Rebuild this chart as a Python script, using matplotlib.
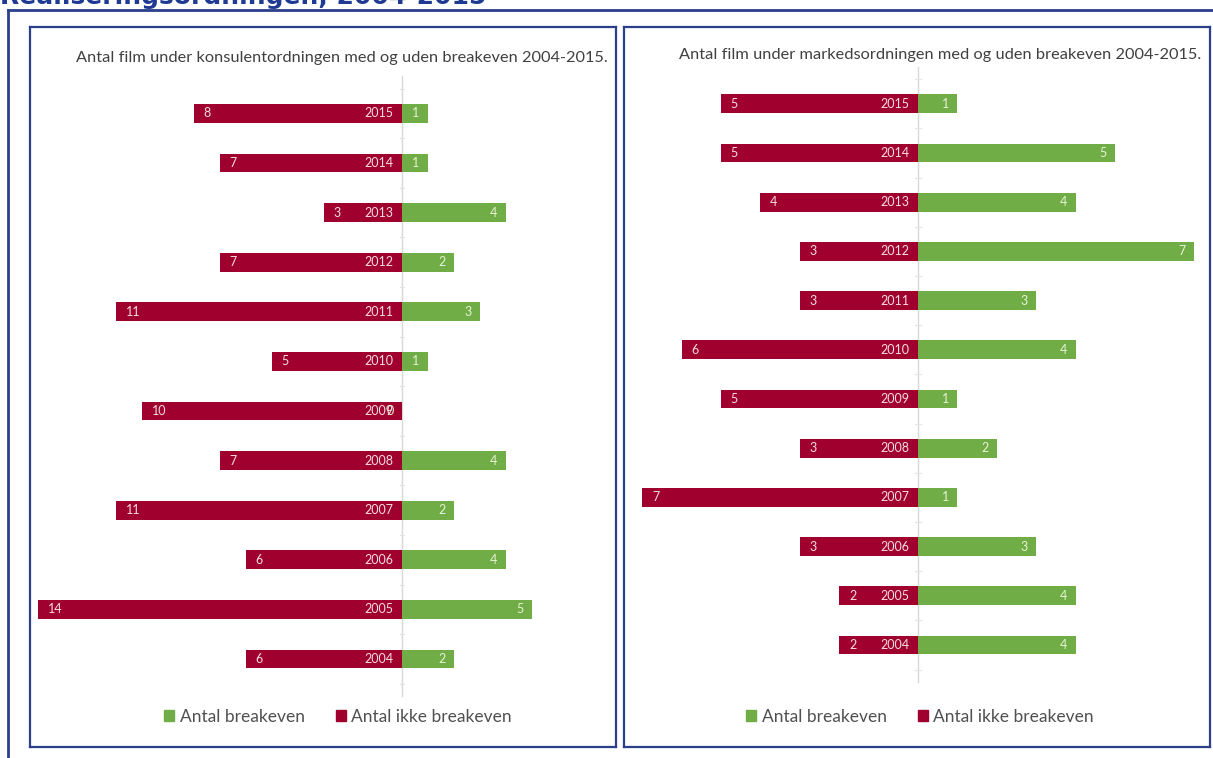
import numpy as np
import matplotlib.pyplot as plt
from matplotlib.lines import Line2D
from matplotlib.patches import Rectangle

years = np.arange(2004, 2016)

# konsulentordningen
kons_ikke = [6, 14, 6, 11, 7, 10, 5, 11, 7, 3, 7, 8]
kons_break = [2, 5, 4, 2, 4, 0, 1, 3, 2, 4, 1, 1]

# markedsordningen
mark_ikke = [2, 2, 3, 7, 3, 5, 6, 3, 3, 4, 5, 5]
mark_break = [4, 4, 3, 1, 2, 1, 4, 3, 7, 4, 5, 1]

titles = ['Antal film under konsulentordningen med og uden breakeven 2004-2015.',
          'Antal film under markedsordningen med og uden breakeven 2004-2015.']
legend_labels = ['Antal breakeven', 'Antal ikke breakeven']

RED = '#A0002E'
GREEN = '#70AD47'
FRAME = '#2B3F8C'
FONT = ['Lato', 'DejaVu Sans']

W, H = 1213, 758
fig = plt.figure(figsize=(W / 100, H / 100), dpi=100)


def px_axes(x0, y0, x1, y1):
    # pixel box (top-left origin) -> figure axes
    return fig.add_axes([x0 / W, 1 - y1 / H, (x1 - x0) / W, (y1 - y0) / H])


def panel(box, xlim, ylim, ikke, brk, title, title_x, title_y, leg_x):
    ax = px_axes(*box)
    ax.set_xlim(*xlim)
    ax.set_ylim(*ylim)
    ax.set_xticks([])
    ax.set_yticks([])
    for s in ax.spines.values():
        s.set_color(FRAME)
        s.set_linewidth(1.6)

    y = np.arange(len(years))
    ikke = np.array(ikke)
    brk = np.array(brk)
    ax.barh(y, -ikke, height=0.38, color=RED, zorder=2)
    ax.barh(y, brk, height=0.38, color=GREEN, zorder=2)

    # centre axis with small category ticks
    ax.plot([0, 0], [-0.75, 11.75], color='#D8D8D8', lw=1.0, zorder=1)
    for b in np.arange(-0.5, 12.0, 1.0):
        ax.plot([-0.08, 0.08], [b, b], color='#E4E4E4', lw=0.8, zorder=1)

    for i in range(len(years)):
        ax.annotate(str(ikke[i]), (-ikke[i], y[i]), xytext=(7, 0),
                    textcoords='offset points', ha='left', va='center',
                    color='#F5DCE2', fontsize=9, family=FONT, zorder=3)
        ax.annotate(str(years[i]), (0, y[i]), xytext=(-6, 0),
                    textcoords='offset points', ha='right', va='center',
                    color='#F5DCE2', fontsize=9, family=FONT, zorder=3)
        ax.annotate(str(brk[i]), (brk[i], y[i]), xytext=(-6, 0),
                    textcoords='offset points', ha='right', va='center',
                    color='#E6F2D4', fontsize=9, family=FONT, zorder=3)

    fig.text(title_x / W, 1 - title_y / H, title, ha='right', va='center',
             color='#404040', fontsize=11.8, family=FONT)

    # legend
    handles = [Rectangle((0, 0), 1, 1, color=GREEN), Rectangle((0, 0), 1, 1, color=RED)]
    fig.legend(handles, legend_labels, loc='center', bbox_to_anchor=(leg_x / W, 1 - 717 / H),
               ncol=2, frameon=False, handlelength=0.6, handleheight=0.6,
               handletextpad=0.3, columnspacing=1.8,
               prop={'family': FONT, 'size': 12.5}, labelcolor='#505050')
    return ax


# left: axis at x=402, 26 px per film; 2004 at y=659, 49.6 px per year
panel((30, 27, 616, 747),
      ((30 - 402) / 26, (616 - 402) / 26),
      ((659 - 747) / 49.6, (659 - 27) / 49.6),
      kons_ikke, kons_break, titles[0], 608, 58, 338)

# right: axis at x=918, 39.4 px per film; 2004 at y=645, 49.2 px per year
panel((624, 27, 1210, 747),
      ((624 - 918) / 39.4, (1210 - 918) / 39.4),
      ((645 - 747) / 49.2, (645 - 27) / 49.2),
      mark_ikke, mark_break, titles[1], 1201, 55, 920)

# outer frame and the heading above it
fig.add_artist(Line2D([8 / W, 8 / W], [0, 1 - 10 / H], color=FRAME, lw=2))
fig.add_artist(Line2D([8 / W, 1], [1 - 10 / H, 1 - 10 / H], color=FRAME, lw=2))
fig.text(0.0, 1 - 4 / H, 'Realiseringsordningen, 2004-2015', ha='left', va='baseline',
         color='#1F3A93', fontsize=18, fontweight='bold')

fig.savefig('out.png', dpi=100)
